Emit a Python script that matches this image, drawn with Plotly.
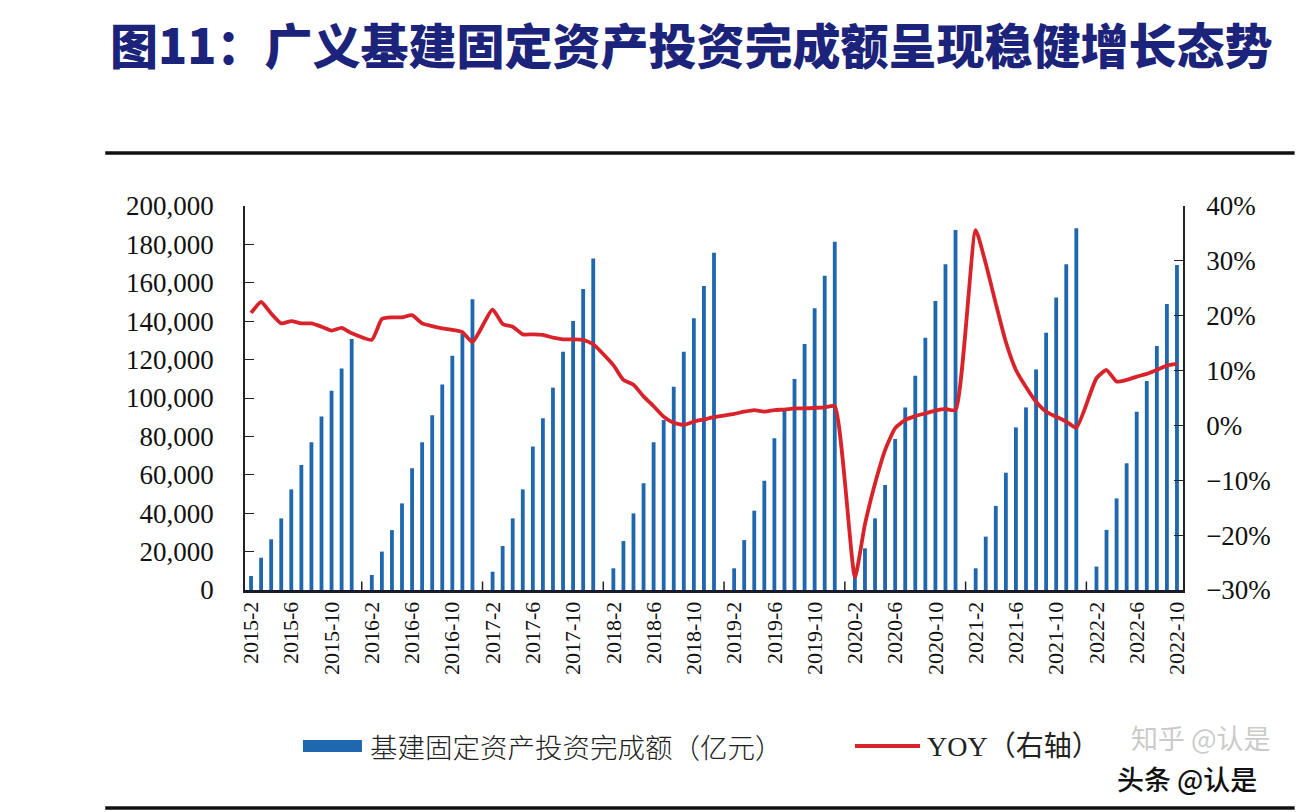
import plotly.graph_objects as go

# ---------------- data ----------------
# Monthly cumulative broad infrastructure FAI (亿元); January has no release (None)
inv_2015 = [7300, 16800, 26400, 37300, 52400, 65100, 76900, 90300, 103800, 115400, 130700]  # Feb-Dec
inv_2016 = [None, 7800, 20000, 31200, 45100, 63400, 76900, 91000, 107000, 122000, 133300, 151400]
inv_2017 = [None, 9500, 22900, 37300, 52400, 74700, 89400, 105400, 124100, 140100, 156800, 172600]
inv_2018 = [None, 11300, 25500, 39900, 55600, 76900, 88500, 105900, 124100, 141500, 158300, 175700]
inv_2019 = [None, 11300, 26000, 41300, 56900, 79000, 93800, 109900, 128100, 146700, 163700, 181400]
inv_2020 = [None, 8000, 21700, 37300, 54700, 78600, 95000, 111600, 131400, 150500, 169600, 187500]
inv_2021 = [None, 11300, 27800, 43800, 61100, 84700, 95100, 114900, 134000, 152300, 169600, 188400]
inv_2022 = [None, 12200, 31300, 47700, 66000, 92900, 108900, 127100, 149000, 169300]  # Jan-Oct

# YoY growth (%), right axis
yoy_2015 = [20.5, 22.5, 20.4, 18.6, 19.0, 18.6, 18.6, 18.0, 17.3, 17.8, 16.8]
yoy_2016 = [None, 15.6, 19.4, 19.7, 19.7, 20.1, 18.6, 18.1, 17.7, 17.4, 17.0, 15.2]
yoy_2017 = [None, 21.1, 18.5, 18.0, 16.6, 16.6, 16.5, 16.0, 15.7, 15.7, 15.6, 14.8]
yoy_2018 = [None, 11.0, 8.3, 7.4, 5.3, 3.5, 1.6, 0.5, 0.1, 0.7, 1.1, 1.5]
yoy_2019 = [None, 2.1, 2.5, 2.8, 2.5, 2.8, 2.9, 3.1, 3.1, 3.2, 3.3, 3.5]
yoy_2020 = [None, -27.6, -18.0, -10.6, -4.5, -0.5, 1.0, 1.7, 2.2, 2.7, 3.0, 2.8]
yoy_2021 = [None, 35.6, 29.5, 22.2, 15.2, 10.1, 7.0, 4.3, 2.5, 1.6, 0.7, -0.4]
yoy_2022 = [None, 8.6, 10.1, 8.0, 8.3, 8.9, 9.4, 10.1, 10.9, 11.2]

tick_labels = ["2015-2", "2015-6", "2015-10", "2016-2", "2016-6", "2016-10",
               "2017-2", "2017-6", "2017-10", "2018-2", "2018-6", "2018-10",
               "2019-2", "2019-6", "2019-10", "2020-2", "2020-6", "2020-10",
               "2021-2", "2021-6", "2021-10", "2022-2", "2022-6", "2022-10"]

year_starts = ["2016-1", "2017-1", "2018-1", "2019-1", "2020-1", "2021-1", "2022-1"]

# ---------------- build category axis ----------------
categories = [f"2015-{m}" for m in range(2, 13)]
for y in range(2016, 2022):
    categories += [f"{y}-{m}" for m in range(1, 13)]
categories += [f"2022-{m}" for m in range(1, 11)]

invest = inv_2015 + inv_2016 + inv_2017 + inv_2018 + inv_2019 + inv_2020 + inv_2021 + inv_2022
yoy = yoy_2015 + yoy_2016 + yoy_2017 + yoy_2018 + yoy_2019 + yoy_2020 + yoy_2021 + yoy_2022

BLUE = "#1f67ae"
RED = "#d8232a"
SERIF = "Liberation Serif"
CJK = "Noto Sans CJK SC"

fig = go.Figure()
fig.add_trace(go.Bar(x=categories, y=invest, marker=dict(color=BLUE, line=dict(width=0)),
                     name="基建固定资产投资完成额（亿元）", yaxis="y"))
fig.add_trace(go.Scatter(x=categories, y=yoy, mode="lines", connectgaps=True,
                         line=dict(color=RED, width=3.8, shape="spline", smoothing=0.5),
                         name="YOY（右轴）", yaxis="y2"))

shapes = []
# small inner ticks at each January
for c in year_starts:
    shapes.append(dict(type="line", xref="x", yref="y domain", x0=c, x1=c, y0=0, y1=0.022,
                       line=dict(color="#222", width=1.5)))
# top and bottom rules
shapes.append(dict(type="line", xref="paper", yref="paper", x0=-0.149, x1=1.119,
                   y0=1.138, y1=1.138, line=dict(color="#111", width=3.5)))
shapes.append(dict(type="line", xref="paper", yref="paper", x0=-0.149, x1=1.119,
                   y0=-0.568, y1=-0.568, line=dict(color="#111", width=3.5)))
# manual legend symbols
shapes.append(dict(type="rect", xref="paper", yref="paper", x0=0.0618, x1=0.1247,
                   y0=-0.4219, y1=-0.3906, fillcolor=BLUE, line=dict(width=0)))
shapes.append(dict(type="line", xref="paper", yref="paper", x0=0.6503, x1=0.7196,
                   y0=-0.40625, y1=-0.40625, line=dict(color=RED, width=4)))

annotations = [
    dict(text="基建固定资产投资完成额（亿元）", xref="paper", yref="paper", x=0.1311, y=-0.40625,
         xanchor="left", yanchor="middle", showarrow=False,
         font=dict(family=CJK, size=27.5, color="#222", weight=300)),
    dict(text="YOY（右轴）", xref="paper", yref="paper", x=0.7249, y=-0.40625,
         xanchor="left", yanchor="middle", showarrow=False,
         font=dict(family=SERIF + ", " + CJK, size=28, color="#222")),
    dict(text="知乎 @认是", xref="paper", yref="paper", x=0.942, y=-0.383,
         xanchor="left", yanchor="middle", showarrow=False,
         font=dict(family=CJK, size=27, color="rgba(150,150,150,0.5)")),
    dict(text="头条 @认是", xref="paper", yref="paper", x=0.928, y=-0.492,
         xanchor="left", yanchor="middle", showarrow=False,
         font=dict(family=CJK, size=27, color="#111", weight=500)),
]

fig.update_layout(
    width=1308, height=812,
    margin=dict(l=245, r=125, t=206, b=222),
    paper_bgcolor="white", plot_bgcolor="white",
    showlegend=False,
    bargap=0.62,
    title=dict(text="图11：广义基建固定资产投资完成额呈现稳健增长态势",
               xref="container", yref="container", x=110 / 1308, y=1 - 47 / 812,
               xanchor="left", yanchor="middle",
               font=dict(family=CJK, size=48, color="#1b237a", weight=900)),
    xaxis=dict(type="category", categoryorder="array", categoryarray=categories,
               range=[-0.6, len(categories) - 0.4],
               tickmode="array", tickvals=tick_labels, ticktext=tick_labels,
               tickangle=-90, ticks="", showgrid=False, zeroline=False,
               showline=True, linecolor="#1a1a2a", linewidth=3,
               tickfont=dict(family=SERIF, size=22, color="#111")),
    yaxis=dict(range=[0, 200000], dtick=20000, tickformat=",", showgrid=False,
               zeroline=False, showline=True, linecolor="#222", linewidth=1.5,
               ticks="inside", ticklen=9, tickcolor="#222", ticklabelstandoff=24,
               tickfont=dict(family=SERIF, size=27, color="#111")),
    yaxis2=dict(overlaying="y", side="right", range=[-30, 40], dtick=10,
                ticksuffix="%", showgrid=False, zeroline=False, showline=True,
                linecolor="#222", linewidth=1.5, ticks="inside", ticklen=9,
                tickcolor="#222", ticklabelstandoff=16,
                tickfont=dict(family=SERIF, size=27, color="#111")),
    shapes=shapes,
    annotations=annotations,
)

fig.write_html("out.html", config={"displayModeBar": False},
               post_script="document.body.style.margin='0';document.body.style.padding='0';")
